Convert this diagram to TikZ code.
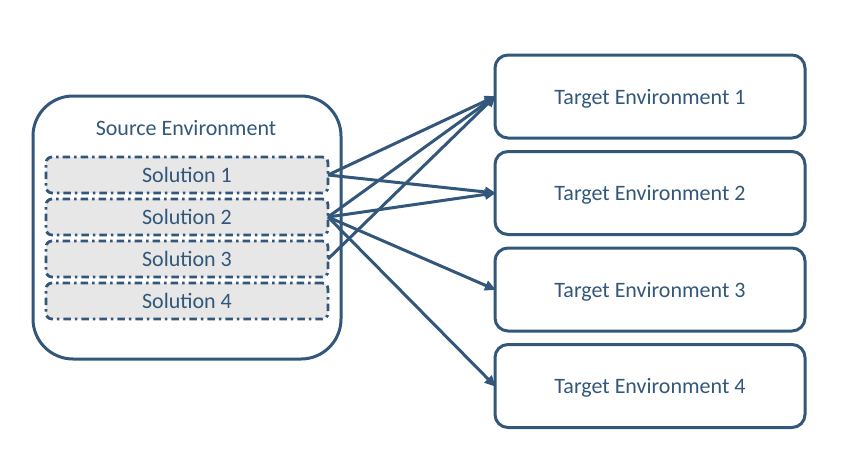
\documentclass[tikz,border=0pt]{standalone}
\usepackage{fontspec}
\setmainfont{Carlito}
\usetikzlibrary{arrows.meta}
\definecolor{dk}{RGB}{50,87,122}
\definecolor{solfill}{RGB}{231,231,231}
\begin{document}
\begin{tikzpicture}[x=1pt,y=-1pt,
  every node/.style={inner sep=0pt,outer sep=0pt,text=dk,text depth=0pt,font=\fontsize{22}{26}\selectfont},
  srcbox/.style={draw=dk,line width=3pt,rounded corners=40pt,minimum width=308pt,minimum height=263pt},
  solbox/.style={draw=dk,fill=solfill,line width=2.8pt,rounded corners=6pt,minimum width=282pt,minimum height=36pt,dash pattern=on 7.5pt off 4pt on 2.5pt off 4pt},
  tgtbox/.style={draw=dk,line width=3pt,rounded corners=13pt,minimum width=310pt,minimum height=83pt},
  link/.style={draw=dk,line width=3pt,-{Triangle[length=11pt,width=10pt]},shorten >=-1pt}]
\useasboundingbox (0,0) rectangle (843,466);
\node[srcbox] (src) at (187,227.5) {};
\node (srct) at (186,128) {Source Environment};
\node[solbox] (s1) at (187,175) {Solution 1};
\node[solbox] (s2) at (187,217) {Solution 2};
\node[solbox] (s3) at (187,259) {Solution 3};
\node[solbox] (s4) at (187,301) {Solution 4};
\node[tgtbox] (t1) at (650,96.5) {Target Environment 1};
\node[tgtbox] (t2) at (650,193) {Target Environment 2};
\node[tgtbox] (t3) at (650,289.5) {Target Environment 3};
\node[tgtbox] (t4) at (650,386) {Target Environment 4};
\draw[link] (s1.east) -- (t1.west);
\draw[link] (s1.east) -- (t2.west);
\draw[link] (s2.east) -- (t1.west);
\draw[link] (s2.east) -- (t2.west);
\draw[link] (s2.east) -- (t3.west);
\draw[link] (s2.east) -- (t4.west);
\draw[link] (s3.east) -- (t1.west);
\end{tikzpicture}
\end{document}
